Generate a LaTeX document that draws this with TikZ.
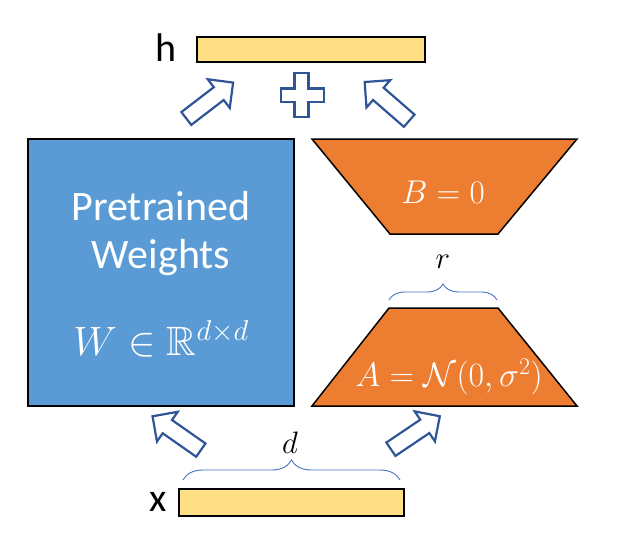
\RequirePackage{fix-cm}
\documentclass[tikz,border=0pt]{standalone}
\usepackage{amssymb}
\usepackage{fontspec}
\setmainfont{Carlito}
\usetikzlibrary{shapes.arrows,decorations.pathreplacing}
\definecolor{jaune}{HTML}{FFDF85}
\definecolor{bleu}{HTML}{5B9BD5}
\definecolor{orange}{HTML}{ED7D31}
\definecolor{bleufonce}{HTML}{2F5597}
\definecolor{bleuclair}{HTML}{4472C4}
\tikzset{
  barre/.style={draw=black, line width=2pt, fill=jaune, inner sep=0pt},
  fleche/.style={single arrow, draw=bleufonce, line width=2.2pt, fill=white,
    minimum height=59pt, single arrow head extend=10pt,
    inner xsep=0pt, inner ysep=7pt},
  accolade/.style={draw=bleuclair, line width=0.9pt, decorate,
    decoration={brace, amplitude=16pt}},
  bloc/.style={draw=black, line width=1.5pt},
  blanc/.style={text=white, inner sep=0pt},
  etiq/.style={inner sep=0pt}
}
\begin{document}
\begin{tikzpicture}[x=1pt,y=-1pt]
		\useasboundingbox (0,0) rectangle (622,542);
		% barres h et x
		\node[barre, minimum width=228pt, minimum height=25pt] (h) at (311,49.5) {};
		\node[barre, minimum width=225pt, minimum height=27pt] (x) at (291.5,502.5) {};
		\node[etiq, font=\fontsize{40}{44}\selectfont] (lh) at (166,48) {h};
		\node[etiq, font=\fontsize{40}{44}\selectfont] (lx) at (158,502) {x};
		% signe plus
		\draw[draw=bleufonce, line width=2.2pt, fill=white]
			(294.5,73) -- (308.5,73) -- (308.5,88.5) -- (324,88.5) -- (324,102)
			-- (308.5,102) -- (308.5,117) -- (294.5,117) -- (294.5,102) -- (281,102)
			-- (281,88.5) -- (294.5,88.5) -- cycle;
		% fleches
		\node[fleche, rotate=37.5] (f1) at (206.5,103) {};
		\node[fleche, rotate=139] (f2) at (390,104) {};
		\node[fleche, rotate=145] (f3) at (180,435.5) {};
		\node[fleche, rotate=34] (f4) at (412,435) {};
		% poids pre-entraines
		\node[bloc, fill=bleu, minimum width=266pt, minimum height=267pt] (W) at (161,272.5) {};
		\node[blanc, font=\fontsize{42}{46}\selectfont] (t1) at (161,206) {Pretrained};
		\node[blanc, font=\fontsize{42}{46}\selectfont] (t2) at (161,258) {Weights};
		\node[blanc, font=\fontsize{41}{46}\selectfont] (t3) at (161,339) {$W\in\mathbb{R}^{d\times d}$};
		% matrices B et A
		\draw[bloc, fill=orange] (312,139) -- (577,139) -- (498,234) -- (390,234) -- cycle;
		\draw[bloc, fill=orange] (389,308) -- (498,308) -- (577,406) -- (312,406) -- cycle;
		\node[blanc, font=\fontsize{33}{38}\selectfont] (B) at (443,192) {$B=0$};
		\node[blanc, font=\fontsize{34}{38}\selectfont] (A) at (449,377) {$A=\mathcal{N}(0,\sigma^2)$};
		% accolades
		\coordinate (r1) at (389,300);
		\coordinate (r2) at (497,300);
		\draw[accolade] (r1) -- (r2);
		\node[etiq, font=\fontsize{31}{36}\selectfont] (r) at (443,262) {$r$};
		\coordinate (d1) at (183,480);
		\coordinate (d2) at (400,480);
		\draw[accolade, decoration={amplitude=20pt}] (d1) -- (d2);
		\node[etiq, font=\fontsize{31}{36}\selectfont] (d) at (290,443) {$d$};
\end{tikzpicture}
\end{document}
